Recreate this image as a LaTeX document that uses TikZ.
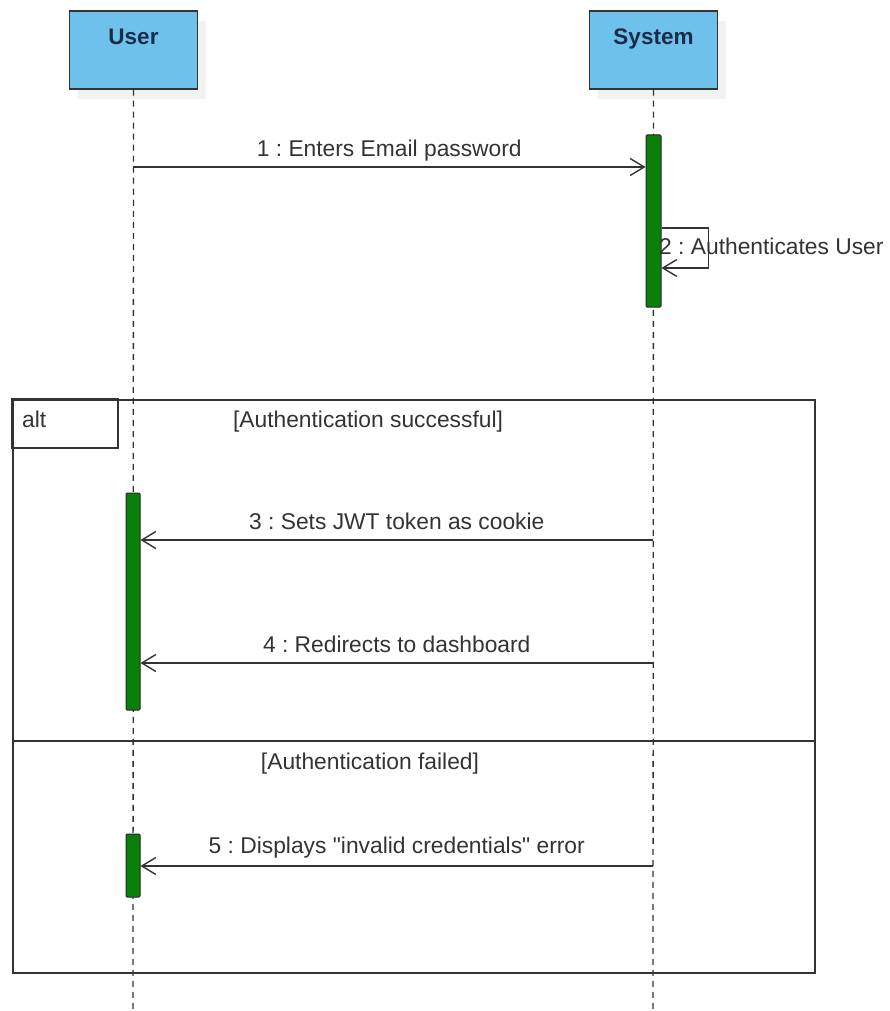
\documentclass[tikz,border=0pt]{standalone}
\usepackage{fontspec}
\setmainfont{Liberation Sans}[Ligatures=TeXOff]
\usetikzlibrary{arrows.meta,shadows}
\definecolor{boxblue}{HTML}{6EC1EA}
\definecolor{navy}{HTML}{1B2B48}
\definecolor{actgreen}{HTML}{0A800A}
\definecolor{ink}{HTML}{333333}
\frenchspacing
\begin{document}
\begin{tikzpicture}[x=1pt,y=-1pt,
  actor/.style={draw=ink, line width=1.5pt, fill=boxblue,
    minimum width=128pt, inner xsep=0pt, inner ysep=4pt,
    text height=30pt, text depth=40pt,
    font=\fontsize{22.5}{27}\selectfont\bfseries, text=navy,
    general shadow={shadow xshift=8pt, shadow yshift=-10pt, fill=black!5}},
  lifeline/.style={draw=ink, line width=1.3pt, dash pattern=on 6pt off 5pt},
  act/.style={draw=black!85, line width=1pt, fill=actgreen, inner sep=0pt,
    rounded corners=1pt},
  msg/.style={draw=ink, line width=1.4pt,
    -{Straight Barb[length=14pt,width=17pt,line width=1.4pt]}},
  lbl/.style={font=\fontsize{22.8}{27}\selectfont, text=ink, inner sep=5pt,
    text height=0.75em, text depth=0.25em},
  frame/.style={draw=ink, line width=1.6pt, inner sep=0pt}]
\useasboundingbox (0,0) rectangle (890,1011);

% actors
\node[actor] (user) at (133.5,50) {User};
\node[actor] (sys) at (653.5,50) {System};

% lifelines
\coordinate (uend) at (133,1011);
\coordinate (send) at (653,1011);
\draw[lifeline] (user.south) -- (uend);
\draw[lifeline] (sys.south) -- (send);

% alt frame
\node[frame, minimum width=802pt, minimum height=573pt] (alt) at (414,686.5) {};
\draw[frame] (alt.north west) rectangle ++(106,49);
\node[lbl, anchor=west] (altlbl) at (17,425) {alt};
\coordinate (div) at (0,741);
\draw[frame] (alt.west |- div) -- (alt.east |- div);
\node[lbl] (g1) at (368,425) {[Authentication successful]};
\node[lbl] (g2) at (370,767) {[Authentication failed]};

% activations
\node[act, minimum width=15pt, minimum height=172pt] (sa) at (653.5,221) {};
\node[act, minimum width=14pt, minimum height=217pt] (ua1) at (133,601.5) {};
\node[act, minimum width=14pt, minimum height=63pt] (ua2) at (133,865.5) {};

% message 1
\coordinate (m1) at (133,167);
\draw[msg] (m1) -- (m1 -| sa.west) node[midway, lbl, anchor=south, yshift=2pt] {1 : Enters Email password};

% message 2 (self)
\coordinate (s2a) at (661,228);
\coordinate (s2b) at (661,268);
\draw[msg] (sa.east |- s2a) -- ++(47,0) -- ++(0,40) -- (sa.east |- s2b);
\node[lbl, anchor=west, inner sep=0pt] (l2) at (659,252) {2 : Authenticates User};

% message 3
\coordinate (m3) at (653,540);
\draw[msg] (m3) -- (m3 -| ua1.east) node[midway, lbl, anchor=south, yshift=2pt] {3 : Sets JWT token as cookie};

% message 4
\coordinate (m4) at (653,663);
\draw[msg] (m4) -- (m4 -| ua1.east) node[midway, lbl, anchor=south, yshift=2pt] {4 : Redirects to dashboard};

% message 5
\coordinate (m5) at (653,866);
\draw[msg] (m5) -- (m5 -| ua2.east) node[midway, lbl, anchor=south, yshift=4pt] {5 : Displays "invalid credentials" error};
\end{tikzpicture}
\end{document}
